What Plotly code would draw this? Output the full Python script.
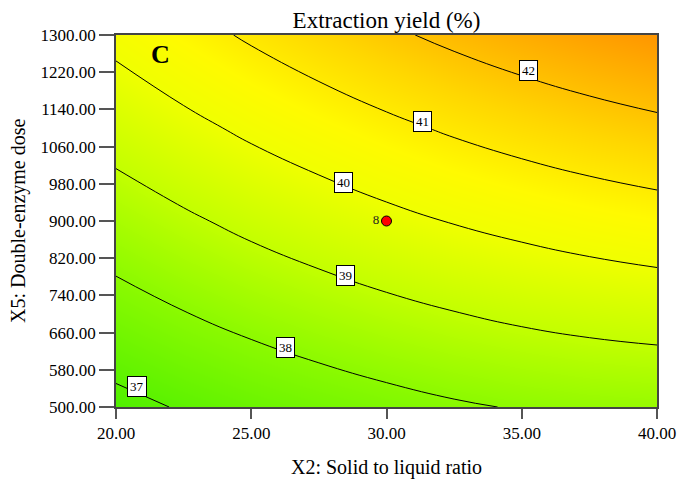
import plotly.graph_objects as go

# ---- data ----
x2_solid_liquid = [20, 22.5, 25, 27.5, 30, 32.5, 35, 37.5, 40]
x5_enzyme_dose = [500, 700, 900, 1100, 1300]
# extraction yield (%) at each (x5 row, x2 column)
yield_z = [
    [36.78, 37.06, 37.31, 37.53, 37.73, 37.91, 38.05, 38.15, 38.20],
    [37.65, 37.97, 38.26, 38.52, 38.76, 38.97, 39.15, 39.29, 39.40],
    [38.51, 38.87, 39.21, 39.51, 39.79, 40.04, 40.25, 40.44, 40.60],
    [39.38, 39.78, 40.16, 40.50, 40.82, 41.11, 41.37, 41.60, 41.80],
    [40.24, 40.69, 41.11, 41.50, 41.86, 42.19, 42.49, 42.76, 43.00],
]
contour_levels = [37, 38, 39, 40, 41, 42]
design_x = [30]
design_y = [900]
design_label = ["8"]
x_ticks = [20, 25, 30, 35, 40]
y_ticks = [500, 580, 660, 740, 820, 900, 980, 1060, 1140, 1220, 1300]

# label anchor positions for the contour level boxes
label_pos = [(20.78, 545), (26.25, 627), (28.48, 783), (28.40, 982), (31.34, 1115), (35.24, 1223)]

FONT = "Liberation Serif, Times New Roman, serif"

colorscale = [
    [0.00, "rgb(80,240,0)"],
    [0.197, "rgb(140,250,0)"],
    [0.358, "rgb(195,255,0)"],
    [0.519, "rgb(240,255,0)"],
    [0.616, "rgb(255,250,0)"],
    [0.761, "rgb(255,215,0)"],
    [1.00, "rgb(255,150,0)"],
]

L, R, T, B = 116, 657, 35, 407
W, H = 693, 479

fig = go.Figure()
fig.add_trace(go.Heatmap(
    x=x2_solid_liquid, y=x5_enzyme_dose, z=yield_z,
    zsmooth="best", colorscale=colorscale, zmin=36.78, zmax=43.0,
    showscale=False, hoverinfo="skip",
))
fig.add_trace(go.Contour(
    x=x2_solid_liquid, y=x5_enzyme_dose, z=yield_z,
    contours=dict(start=contour_levels[0], end=contour_levels[-1], size=1, coloring="none"),
    line=dict(color="black", width=1, smoothing=1.3),
    showscale=False, hoverinfo="skip",
))
fig.add_trace(go.Scatter(
    x=design_x, y=design_y, mode="markers+text", text=design_label,
    textposition="middle left",
    textfont=dict(family=FONT, size=13, color="#222"),
    marker=dict(size=10, color="red", line=dict(color="black", width=1)),
    showlegend=False, hoverinfo="skip",
))

annotations = []
for lvl, (lx, ly) in zip(contour_levels, label_pos):
    annotations.append(dict(
        x=lx, y=ly, xref="x", yref="y", text=str(lvl), showarrow=False,
        font=dict(family=FONT, size=13, color="black"),
        bgcolor="white", bordercolor="black", borderwidth=1, borderpad=2,
    ))
pw, ph = R - L, B - T
annotations.append(dict(
    x=(160 - L) / pw, y=(B - 55) / ph, xref="paper", yref="paper",
    xanchor="center", yanchor="middle",
    text="<b>C</b>", showarrow=False, font=dict(family=FONT, size=26, color="black"),
))
annotations.append(dict(
    x=0.5, y=(B - 467) / ph, xref="paper", yref="paper",
    xanchor="center", yanchor="middle",
    text="X2: Solid to liquid ratio", showarrow=False,
    font=dict(family=FONT, size=20, color="black"),
))
annotations.append(dict(
    x=(18 - L) / pw, y=0.5, xref="paper", yref="paper",
    xanchor="center", yanchor="middle", textangle=-90,
    text="X5: Double-enzyme dose", showarrow=False,
    font=dict(family=FONT, size=20, color="black"),
))

fig.update_layout(
    width=W, height=H,
    margin=dict(l=L, r=W - R, t=T, b=H - B, autoexpand=False),
    paper_bgcolor="white", plot_bgcolor="white",
    showlegend=False,
    title=dict(text="Extraction yield (%)", x=(L + R) / 2 / W, xanchor="center",
               y=1 - 20 / H, yanchor="middle",
               font=dict(family=FONT, size=23, color="black")),
    annotations=annotations,
    font=dict(family=FONT, color="black"),
)
fig.update_xaxes(
    range=[20, 40], tickvals=x_ticks, ticktext=[f"{v:.2f}" for v in x_ticks],
    ticks="outside", ticklen=10, tickcolor="#555", tickwidth=1.5,
    showline=True, linecolor="#444", linewidth=1.5, mirror=True,
    showgrid=False, zeroline=False, automargin=False,
    tickfont=dict(family=FONT, size=17, color="black"),
)
fig.update_yaxes(
    range=[500, 1300], tickvals=y_ticks, ticktext=[f"{v:.2f}" for v in y_ticks],
    ticks="outside", ticklen=15, tickcolor="#555", tickwidth=1.5,
    showline=True, linecolor="#444", linewidth=1.5, mirror=True,
    showgrid=False, zeroline=False, automargin=False,
    tickfont=dict(family=FONT, size=17, color="black"),
)

fig.write_html("out.html")
